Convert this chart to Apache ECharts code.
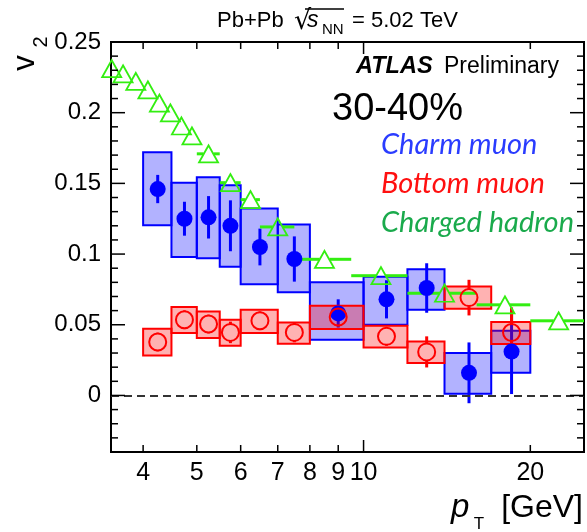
<!DOCTYPE html>
<html>
<head>
<meta charset="utf-8">
<script src="https://cdn.jsdelivr.net/npm/echarts@6/dist/echarts.min.js"></script>
<style>
html,body{margin:0;padding:0;background:#fff;}
#chart{width:587px;height:532px;}
</style>
</head>
<body>
<div id="chart"></div>
<script>
// ---- axis ranges ----
const X_MIN = 3.5, X_MAX = 25;
const Y_MIN = -0.04, Y_MAX = 0.25;

// ---- tick values ----
const xMajorTicks = [10];
const xMinorTicks = [4, 5, 6, 7, 8, 9, 20];
const xTickLabels = [4, 5, 6, 7, 8, 9, 10, 20];
const yMajorTicks = [0, 0.05, 0.1, 0.15, 0.2, 0.25];
const yMinorTicks = [-0.04, -0.03, -0.02, -0.01, 0.01, 0.02, 0.03, 0.04, 0.06, 0.07, 0.08, 0.09,
  0.11, 0.12, 0.13, 0.14, 0.16, 0.17, 0.18, 0.19, 0.21, 0.22, 0.23, 0.24];
const yTickLabels = [0, 0.05, 0.1, 0.15, 0.2, 0.25];

// ---- pT bins (muons) ----
const binLow    = [4, 4.5, 5, 5.5, 6, 7, 8, 10, 12, 14, 17];
const binHigh   = [4.5, 5, 5.5, 6, 7, 8, 10, 12, 14, 17, 20];
const binCenter = [4.25, 4.75, 5.25, 5.75, 6.5, 7.5, 9, 11, 13, 15.5, 18.5];

// ---- charm muon v2 ----
const charmV      = [0.146, 0.125, 0.126, 0.120, 0.105, 0.0965, 0.058, 0.068, 0.076, 0.016, 0.031];
const charmStat   = [0.010, 0.012, 0.015, 0.018, 0.013, 0.016, 0.010, 0.0135, 0.0175, 0.0215, 0.030];
const charmSysLow = [0.1204, 0.098, 0.097, 0.091, 0.0787, 0.073, 0.0394, 0.050, 0.0606, 0.0012, 0.016];
const charmSysHigh= [0.172, 0.1505, 0.1544, 0.1486, 0.1322, 0.1209, 0.080, 0.084, 0.0892, 0.030, 0.0458];

// ---- bottom muon v2 ----
const bottomV      = [0.0378, 0.0535, 0.0505, 0.0446, 0.0528, 0.0446, 0.0555, 0.0418, 0.0308, 0.0692, 0.0445];
const bottomStat   = [0.0066, 0.0066, 0.0066, 0.0076, 0.0066, 0.007, 0.0066, 0.0066, 0.011, 0.0126, 0.0178];
const bottomSysLow = [0.0282, 0.0442, 0.0406, 0.0352, 0.0442, 0.0366, 0.047, 0.034, 0.023, 0.0613, 0.0364];
const bottomSysHigh= [0.0472, 0.0625, 0.0594, 0.0535, 0.0606, 0.0516, 0.0634, 0.0493, 0.0382, 0.077, 0.0519];

// ---- charged hadron v2 ----
const hadronX  = [3.51, 3.68, 3.88, 4.08, 4.28, 4.48, 4.69, 4.90, 5.25, 5.75, 6.25, 7.0, 8.5, 10.75, 14, 18, 22.5];
const hadronV  = [0.2312, 0.2275, 0.2222, 0.2161, 0.2068, 0.1998, 0.1906, 0.1836, 0.1709, 0.1505, 0.1385, 0.1192, 0.0963, 0.0847, 0.0723, 0.0641, 0.0528];
const hadronLo = [null, null, null, null, null, null, null, null, 5.0, 5.5, 6.0, 6.5, 7.5, 9.5, 12, 16, 20];
const hadronHi = [null, null, null, null, null, null, null, null, 5.5, 6.0, 6.5, 7.5, 9.5, 12, 16, 20, 25];

// ---- styles ----
const FONT = '"Liberation Sans", Arial, Helvetica, sans-serif';
const LEGFONT = 'italic 29px Lato, "Open Sans", sans-serif';
const BLUE = '#0000ff', RED = '#ff0000', GREEN = '#33ee11';

const chart = echarts.init(document.getElementById('chart'), null, {renderer: 'canvas'});

function boxSeries(lows, highs, sysLo, sysHi, fill, stroke) {
  return {
    type: 'custom', silent: true,
    data: lows.map((l, i) => [l, highs[i], sysLo[i], sysHi[i]]),
    encode: {x: [0, 1], y: [2, 3]},
    renderItem: (params, api) => {
      const p1 = api.coord([api.value(0), api.value(3)]);
      const p2 = api.coord([api.value(1), api.value(2)]);
      return {type: 'rect', shape: {x: p1[0], y: p1[1], width: p2[0] - p1[0], height: p2[1] - p1[1]},
        style: {fill: fill, stroke: stroke, lineWidth: 2}};
    }
  };
}

function vErrSeries(xs, vs, errs, color, gap) {
  return {
    type: 'custom', silent: true,
    data: xs.map((x, i) => [x, vs[i], errs[i]]),
    encode: {x: 0, y: 1},
    renderItem: (params, api) => {
      const x = api.value(0), v = api.value(1), e = api.value(2);
      const top = api.coord([x, v + e]);
      const bot = api.coord([x, v - e]);
      const c = api.coord([x, v]);
      const children = [];
      if (c[1] - gap > top[1]) children.push({type: 'line', shape: {x1: c[0], y1: top[1], x2: c[0], y2: c[1] - gap}, style: {stroke: color, lineWidth: 3}});
      if (bot[1] > c[1] + gap) children.push({type: 'line', shape: {x1: c[0], y1: c[1] + gap, x2: c[0], y2: bot[1]}, style: {stroke: color, lineWidth: 3}});
      return {type: 'group', children: children};
    }
  };
}

const hadronLineData = [];
hadronX.forEach((x, i) => { if (hadronLo[i] !== null) hadronLineData.push([x, hadronV[i], hadronLo[i], hadronHi[i]]); });

function yTickSeries(vals, len) {
  return {
    type: 'custom', silent: true, z: 10,
    data: vals.map(v => [X_MIN, v]),
    encode: {x: 0, y: 1},
    renderItem: (params, api) => {
      const cs = params.coordSys;
      const y = api.coord([X_MIN, api.value(1)])[1];
      const st = {stroke: '#000', lineWidth: 1.5};
      return {type: 'group', children: [
        {type: 'line', shape: {x1: cs.x, y1: y, x2: cs.x + len, y2: y}, style: st},
        {type: 'line', shape: {x1: cs.x + cs.width, y1: y, x2: cs.x + cs.width - len, y2: y}, style: st}
      ]};
    }
  };
}
function xTickSeries(vals, len) {
  return {
    type: 'custom', silent: true, z: 10,
    data: vals.map(v => [v, Y_MIN]),
    encode: {x: 0, y: 1},
    renderItem: (params, api) => {
      const cs = params.coordSys;
      const x = api.coord([api.value(0), Y_MIN])[0];
      const st = {stroke: '#000', lineWidth: 1.5};
      return {type: 'group', children: [
        {type: 'line', shape: {x1: x, y1: cs.y + cs.height, x2: x, y2: cs.y + cs.height - len}, style: st},
        {type: 'line', shape: {x1: x, y1: cs.y, x2: x, y2: cs.y + len}, style: st}
      ]};
    }
  };
}

function txt(x, y, text, font, fill, align, extra) {
  return Object.assign({type: 'text', x: x, y: y,
    style: {text: text, font: font, fill: fill || '#000', align: align || 'left', verticalAlign: 'middle',
      textAlign: align || 'left', textVerticalAlign: 'middle'}}, extra || {});
}

const option = {
  animation: false,
  backgroundColor: '#fff',
  grid: {left: 111, right: 3, top: 42, bottom: 80, show: true, borderColor: '#000', borderWidth: 2, backgroundColor: 'transparent'},
  xAxis: {type: 'log', logBase: 10, min: X_MIN, max: X_MAX,
    axisLine: {show: false}, axisTick: {show: false}, axisLabel: {show: false}, splitLine: {show: false}, minorTick: {show: false}},
  yAxis: {type: 'value', min: Y_MIN, max: Y_MAX,
    axisLine: {show: false}, axisTick: {show: false}, axisLabel: {show: false}, splitLine: {show: false}},
  series: [
    // zero dashed line
    {type: 'line', data: [], silent: true,
      markLine: {silent: true, symbol: 'none', label: {show: false},
        lineStyle: {color: '#333', width: 2, type: [8, 5]}, data: [{yAxis: 0}]}},
    boxSeries(binLow, binHigh, charmSysLow, charmSysHigh, 'rgba(0,0,255,0.3)', BLUE),
    vErrSeries(binCenter, charmV, charmStat, BLUE, 0),
    {type: 'scatter', silent: true, data: binCenter.map((x, i) => [x, charmV[i]]),
      symbol: 'circle', symbolSize: 16, itemStyle: {color: BLUE, opacity: 1}},
    boxSeries(binLow, binHigh, bottomSysLow, bottomSysHigh, 'rgba(255,0,0,0.3)', RED),
    vErrSeries(binCenter, bottomV, bottomStat, RED, 8.5),
    {type: 'scatter', silent: true, data: binCenter.map((x, i) => [x, bottomV[i]]),
      symbol: 'circle', symbolSize: 17, itemStyle: {color: 'rgba(0,0,0,0)', borderColor: RED, borderWidth: 2, opacity: 1}},
    // hadron horizontal bars
    {type: 'custom', silent: true, data: hadronLineData, encode: {x: 0, y: 1},
      renderItem: (params, api) => {
        const x = api.value(0), v = api.value(1);
        const c = api.coord([x, v]);
        const l = api.coord([api.value(2), v]);
        const r = api.coord([api.value(3), v]);
        const st = {stroke: GREEN, lineWidth: 3};
        return {type: 'group', children: [
          {type: 'line', shape: {x1: l[0], y1: c[1], x2: c[0] - 5, y2: c[1]}, style: st},
          {type: 'line', shape: {x1: c[0] + 5, y1: c[1], x2: r[0], y2: c[1]}, style: st}
        ]};
      }},
    {type: 'scatter', silent: true, data: hadronX.map((x, i) => [x, hadronV[i]]),
      symbol: 'triangle', symbolSize: [19, 17], itemStyle: {color: 'rgba(0,0,0,0)', borderColor: GREEN, borderWidth: 1.8, opacity: 1}},
    // ticks
    yTickSeries(yMajorTicks, 14),
    yTickSeries(yMinorTicks, 7),
    xTickSeries(xMajorTicks, 12),
    xTickSeries(xMinorTicks, 7),
    // tick labels
    {type: 'custom', silent: true, data: yTickLabels.map(v => [X_MIN, v]), encode: {x: 0, y: 1},
      renderItem: (params, api) => {
        const p = api.coord([X_MIN, api.value(1)]);
        return txt(p[0] - 10, p[1], String(api.value(1)), '24px ' + FONT, '#000', 'right');
      }},
    {type: 'custom', silent: true, data: xTickLabels.map(v => [v, Y_MIN]), encode: {x: 0, y: 1},
      renderItem: (params, api) => {
        const p = api.coord([api.value(0), Y_MIN]);
        return txt(p[0], p[1] + 21, String(api.value(0)), '25px ' + FONT, '#000', 'center');
      }}
  ],
  graphic: [
    // header
    txt(217, 21, 'Pb+Pb', '22px ' + FONT),
    txt(294, 22, '√', '27px "DejaVu Sans", ' + FONT),
    {type: 'line', shape: {x1: 305, y1: 9, x2: 344, y2: 9}, style: {stroke: '#000', lineWidth: 1.3}},
    txt(307, 21, 's', 'italic 23px ' + FONT),
    txt(322, 30, 'NN', '15px ' + FONT),
    txt(352, 21, '= 5.02 TeV', '22px ' + FONT),
    // ATLAS
    txt(356, 67, 'ATLAS', 'italic bold 23.5px ' + FONT),
    txt(444, 67, 'Preliminary', '23px ' + FONT),
    txt(332, 110, '30-40%', '38px ' + FONT),
    // legend texts
    txt(381, 145, 'Charm muon', LEGFONT, '#2a3cff'),
    txt(381, 184, 'Bottom muon', LEGFONT, '#ff1010'),
    txt(381, 223, 'Charged hadron', LEGFONT, '#1aaa4c'),
    // y title v2
    txt(25, 63, 'v', '31px ' + FONT, '#000', 'center', {rotation: Math.PI / 2}),
    txt(41, 42, '2', '20px ' + FONT, '#000', 'center', {rotation: Math.PI / 2}),
    // x title
    txt(451, 508, 'p', 'italic 33px ' + FONT),
    txt(479, 524, 'T', '17px ' + FONT, '#000', 'center'),
    txt(583, 508, '[GeV]', '32px ' + FONT, '#000', 'right')
  ]
};
chart.setOption(option);
</script>
</body>
</html>
